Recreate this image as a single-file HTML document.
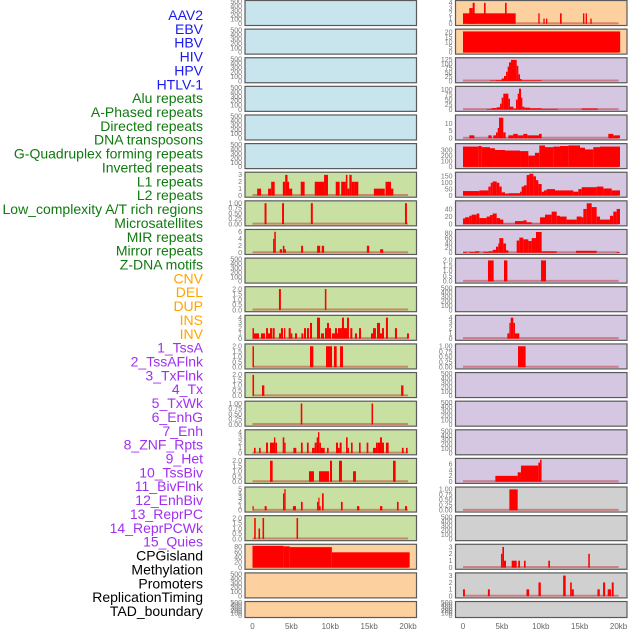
<!DOCTYPE html>
<html><head><meta charset="utf-8"><style>
html,body{margin:0;padding:0;background:#fff;width:630px;height:630px;overflow:hidden}
svg{display:block;font-family:"Liberation Sans",sans-serif}
</style></head><body>
<svg id="chart" width="630" height="630" xmlns="http://www.w3.org/2000/svg"></svg>
<script>
const trackLabels = ["AAV2","EBV","HBV","HIV","HPV","HTLV-1","Alu repeats","A-Phased repeats","Directed repeats","DNA transposons","G-Quadruplex forming repeats","Inverted repeats","L1 repeats","L2 repeats","Low_complexity A/T rich regions","Microsatellites","MIR repeats","Mirror repeats","Z-DNA motifs","CNV","DEL","DUP","INS","INV","1_TssA","2_TssAFlnk","3_TxFlnk","4_Tx","5_TxWk","6_EnhG","7_Enh","8_ZNF_Rpts","9_Het","10_TssBiv","11_BivFlnk","12_EnhBiv","13_ReprPC","14_ReprPCWk","15_Quies","CPGisland","Methylation","Promoters","ReplicationTiming","TAD_boundary"];
const labelGroups = [0,0,0,0,0,0,1,1,1,1,1,1,1,1,1,1,1,1,1,2,2,2,2,2,3,3,3,3,3,3,3,3,3,3,3,3,3,3,3,4,4,4,4,4];
const xTickValues = [0,5,10,15,20];
const xTickLabels = ["0","5kb","10kb","15kb","20kb"];
const emptyTicks = [0,100,200,300,400,500];

const segL6 = [[0.6,1.1,1],[2.0,2.4,1],[2.4,2.85,2],[3.9,4.2,2],[4.2,4.5,3],[4.5,4.7,2],[4.7,5.1,1],[6.2,6.7,2],[8.0,9.2,2],[9.2,9.7,3],[10.7,11.2,2],[11.4,12.0,2],[12.0,12.2,3],[12.2,12.45,1],[12.45,12.75,3],[12.75,13.1,2],[13.1,13.6,2],[15.6,17.0,1],[17.1,17.8,2],[17.8,18.1,1]];
const segL7 = [[1.55,1.8,1],[3.8,4.05,1],[7.5,7.75,1],[19.6,19.85,1]];
const segL8 = [[2.65,2.8,4],[2.8,3.0,6],[3.5,3.8,1],[3.9,4.1,2],[4.1,4.3,1],[6.25,6.5,2],[8.3,8.7,2],[8.9,9.2,2],[14.7,15.0,2],[16.4,16.8,1]];
const segL10 = [[3.4,3.65,2],[9.3,9.5,2]];
const segL11 = [[0,0.19,2],[0.19,0.84,1],[1.09,1.61,1],[1.74,1.99,2],[1.99,2.25,1],[2.25,2.51,2],[2.59,2.85,2],[3.41,3.66,1],[3.66,3.92,2],[4.05,4.22,2],[4.65,4.91,2],[4.91,5.12,1],[5.46,5.72,1],[6.28,6.53,1],[6.62,6.88,2],[7.0,7.26,2],[7.39,7.65,3],[8.29,8.68,4],[8.8,9.19,1],[9.32,9.58,2],[9.58,9.83,3],[9.83,10.09,2],[10.22,10.6,1],[10.6,10.86,2],[10.86,10.99,1],[10.99,11.25,2],[11.25,11.5,2],[11.5,11.76,4],[11.76,12.15,2],[12.15,12.4,4],[12.57,12.83,2],[13.17,13.43,1],[13.69,13.95,2],[15.23,15.49,1],[15.49,15.87,2],[16.0,16.39,3],[16.39,16.64,1],[16.64,16.9,2],[17.15,17.41,4],[18.31,18.57,2],[19.86,20.11,1]];
const segL12 = [[0,0.19,2],[7.39,7.82,2],[9.45,10.22,2],[10.47,10.82,2],[11.25,11.63,2]];
const segL13 = [[0,0.2,2],[1.22,1.52,1],[19.1,19.4,1]];
const segL14 = [[6.2,6.4,1],[15.3,15.5,1]];
const segL15 = [[0.19,0.4,1],[0.84,1.05,1],[1.74,1.99,2],[2.25,2.76,2],[2.76,2.93,3],[2.93,3.15,2],[3.88,4.09,3],[4.09,4.26,2],[5.25,5.63,1],[6.23,6.45,2],[7.0,7.22,2],[7.65,7.99,1],[7.99,8.25,2],[8.25,8.42,3],[8.42,8.59,4],[8.59,8.8,2],[8.8,9.28,1],[9.58,9.79,1],[10.73,10.99,2],[10.99,11.2,1],[11.2,11.46,2],[12.02,12.23,3],[12.23,12.4,1],[12.66,12.87,2],[13.69,13.9,2],[14.67,14.89,2],[15.49,15.87,1],[15.87,16.09,2],[16.09,16.39,2],[16.39,16.64,3],[16.64,16.9,2],[17.15,17.5,2],[19.2,19.43,1],[19.73,19.94,1]];
const segL16 = [[2.25,2.59,2],[7.26,7.9,1],[8.55,8.93,1],[8.93,9.83,1],[9.96,10.22,2],[11.12,11.5,2],[12.92,13.3,1],[18.06,18.4,2]];
const segL17 = [[0,0.15,1],[1.56,1.82,1],[3.92,4.09,4],[4.09,4.26,5],[5.2,5.59,1],[6.23,6.45,2],[8.29,8.46,2],[8.46,8.59,3],[8.59,8.76,1],[8.93,9.15,4],[11.37,11.59,2],[13.43,13.73,1],[16.39,16.69,1],[18.57,18.78,2],[19.6,19.86,1]];
const segL18 = [[0.22,0.42,2],[0.77,0.97,1],[1.29,1.49,2],[5.66,5.86,2]];
const segL19 = [[0,4.0,84],[4.0,4.8,82],[4.8,10.2,79],[10.2,20.2,59]];

const segR0 = [[0,6.77,2],[0.81,1.03,3],[1.03,1.24,3],[1.24,1.5,4],[2.7,2.91,4],[5.4,5.61,4],[9.68,9.85,2],[10.33,10.5,1],[10.67,10.84,1],[12.47,12.68,2],[15.42,15.6,2],[15.77,15.94,2],[16.37,16.54,1]];
const segR1 = [[0,20.2,21]];
const segR2 = [[3.47,4.24,3],[4.24,4.97,5],[4.97,5.27,15],[5.27,5.53,30],[5.53,5.74,55],[5.74,5.91,85],[5.91,6.17,110],[6.17,6.9,125],[6.9,7.11,90],[7.11,7.33,40],[7.33,7.54,12],[7.54,10.11,4]];
const segR3 = [[3.04,3.68,3],[3.68,4.33,8],[4.33,4.76,12],[4.76,4.97,30],[4.97,5.18,60],[5.18,5.83,80],[5.83,6.04,55],[6.04,6.47,15],[6.47,6.81,5],[6.81,7.03,50],[7.03,7.2,80],[7.2,7.46,105],[7.46,7.63,60],[7.63,7.88,15],[7.88,8.61,10],[8.61,10.11,7],[10.11,12.17,4],[15.25,17.31,6]];
const segR4 = [[0.81,1.46,2],[3.26,3.68,2],[3.9,4.24,2],[4.24,4.46,4],[4.46,4.63,7],[4.63,5.18,14],[5.18,5.48,4],[5.83,6.47,2],[6.47,7.03,3],[7.03,7.75,2],[7.75,8.27,3],[8.27,9.77,2],[9.77,10.11,3],[18.68,19.32,3],[19.32,20.18,2]];
const bndR5 = [0,1.97,2.4,3.47,4.11,5.4,7.33,8.4,9.25,9.81,10.54,11.61,12.47,13.54,15.04,15.68,16.75,17.61,20.18];
const valR5 = [360,370,350,330,300,290,280,200,250,380,350,360,370,380,340,310,350,360];
const bndR6 = [0,2.1,3.26,3.56,3.81,4.33,4.67,4.97,5.4,5.83,7.33,7.54,7.84,8.18,8.53,9.04,9.38,9.68,10.11,10.41,10.75,11.83,14.18,14.82,15.25,17.18,18.04,19.11,20.18];
const valR6 = [35,40,70,100,110,100,70,25,15,18,30,70,80,160,170,150,120,90,30,40,50,40,30,50,65,70,55,40];
const bndR7 = [0,0.26,0.81,1.11,1.76,2.1,3.04,3.47,3.81,4.33,4.76,5.18,6.68,7.75,8.18,8.83,9.9,10.54,11.4,12.04,12.47,13.32,14.61,15.25,15.47,15.9,16.54,17.18,17.61,18.89,19.32,19.75,20.18];
const valR7 = [15,18,22,25,28,16,20,24,28,16,12,1,8,10,5,1,18,25,33,22,20,12,20,18,40,55,45,20,12,22,33,40];
const segR8 = [[0,0.47,3],[0.81,1.54,3],[1.54,2.1,6],[2.61,3.26,4],[3.26,3.81,6],[3.81,4.24,12],[4.24,4.54,25],[4.54,4.67,38],[4.67,5.18,60],[5.18,5.53,38],[5.53,5.83,10],[6.9,7.24,50],[7.24,7.75,62],[7.75,8.4,55],[8.4,8.83,48],[8.83,9.38,60],[9.38,10.11,85],[10.11,12.04,6],[14.52,17.18,8],[19.75,20.18,3]];
const segR9 = [[3.21,3.94,2],[5.27,5.7,2],[10.03,10.67,2]];
const segR11 = [[5.7,5.96,1],[5.96,6.13,3],[6.13,6.47,4],[6.47,6.68,3],[6.68,7.24,1]];
const segR12 = [[7.07,8.05,1]];
const segR16 = [[4.16,7.03,2],[7.03,7.45,3.2],[7.45,9.68,5.5],[9.68,9.9,6.5],[9.9,10.1,7.5]];
const segR17 = [[5.96,7.03,1]];
const segR19 = [[4.88,5.06,2],[5.06,5.27,3],[5.27,5.53,1],[6.26,6.9,1],[7.1,7.33,1],[7.84,8.05,1],[10.96,11.18,1],[16.1,16.3,2]];
const segR20 = [[0,0.25,1],[3.2,3.45,1],[8.16,8.5,1],[9.7,10.0,2],[12.87,13.2,3],[13.77,13.98,2],[13.98,14.24,1],[17.28,17.58,1],[18.0,18.27,2],[18.6,19.03,1],[19.12,19.37,2]];

function steps(b, v){ const out=[]; for(let i=0;i<v.length;i++) out.push([b[i],b[i+1],v[i]]); return out; }

const BLUE="#c8e4ec", GREEN="#c8e0a2", PEACH="#fdd0a0", PURPLE="#d5c6e2", GRAY="#d0d0d0";
const leftTracks = [
 {segs:null,max:500,ticks:emptyTicks,dec:0,bg:BLUE},{segs:null,max:500,ticks:emptyTicks,dec:0,bg:BLUE},
 {segs:null,max:500,ticks:emptyTicks,dec:0,bg:BLUE},{segs:null,max:500,ticks:emptyTicks,dec:0,bg:BLUE},
 {segs:null,max:500,ticks:emptyTicks,dec:0,bg:BLUE},{segs:null,max:500,ticks:emptyTicks,dec:0,bg:BLUE},
 {segs:segL6,max:3.2,ticks:[0,1,2,3],dec:0,bg:GREEN},
 {segs:segL7,max:1.05,ticks:[0,0.25,0.5,0.75,1],dec:2,bg:GREEN},
 {segs:segL8,max:6.3,ticks:[0,2,4,6],dec:0,bg:GREEN},
 {segs:null,max:500,ticks:emptyTicks,dec:0,bg:GREEN},
 {segs:segL10,max:2.1,ticks:[0,0.5,1,1.5,2],dec:1,bg:GREEN},
 {segs:segL11,max:4.2,ticks:[0,1,2,3,4],dec:0,bg:GREEN},
 {segs:segL12,max:2.1,ticks:[0,0.5,1,1.5,2],dec:1,bg:GREEN},
 {segs:segL13,max:2.1,ticks:[0,0.5,1,1.5,2],dec:1,bg:GREEN},
 {segs:segL14,max:1.05,ticks:[0,0.25,0.5,0.75,1],dec:2,bg:GREEN},
 {segs:segL15,max:4.2,ticks:[0,1,2,3,4],dec:0,bg:GREEN},
 {segs:segL16,max:2.1,ticks:[0,0.5,1,1.5,2],dec:1,bg:GREEN},
 {segs:segL17,max:5.2,ticks:[0,1,2,3,4,5],dec:0,bg:GREEN},
 {segs:segL18,max:2.1,ticks:[0,0.5,1,1.5,2],dec:1,bg:GREEN},
 {segs:segL19,max:85,ticks:[0,20,40,60,80],dec:0,bg:PEACH},
 {segs:null,max:500,ticks:emptyTicks,dec:0,bg:PEACH},{segs:null,max:500,ticks:emptyTicks,dec:0,bg:PEACH}
];
const rightTracks = [
 {segs:segR0,max:4.2,ticks:[0,1,2,3,4],dec:0,bg:PEACH},
 {segs:segR1,max:22,ticks:[0,5,10,15,20],dec:0,bg:PEACH},
 {segs:segR2,max:130,ticks:[0,25,50,75,100,125],dec:0,bg:PURPLE},
 {segs:segR3,max:110,ticks:[0,25,50,75,100],dec:0,bg:PURPLE},
 {segs:segR4,max:15,ticks:[0,5,10],dec:0,bg:PURPLE},
 {segs:steps(bndR5,valR5),max:390,ticks:[0,100,200,300],dec:0,bg:PURPLE},
 {segs:steps(bndR6,valR6),max:172,ticks:[0,50,100,150],dec:0,bg:PURPLE},
 {segs:steps(bndR7,valR7),max:58,ticks:[0,20,40],dec:0,bg:PURPLE},
 {segs:segR8,max:90,ticks:[0,20,40,60,80],dec:0,bg:PURPLE},
 {segs:segR9,max:2.1,ticks:[0,0.5,1,1.5,2],dec:1,bg:PURPLE},
 {segs:null,max:500,ticks:emptyTicks,dec:0,bg:PURPLE},
 {segs:segR11,max:4.2,ticks:[0,1,2,3,4],dec:0,bg:PURPLE},
 {segs:segR12,max:1.05,ticks:[0,0.25,0.5,0.75,1],dec:2,bg:PURPLE},
 {segs:null,max:500,ticks:emptyTicks,dec:0,bg:PURPLE},{segs:null,max:500,ticks:emptyTicks,dec:0,bg:PURPLE},
 {segs:null,max:500,ticks:emptyTicks,dec:0,bg:PURPLE},
 {segs:segR16,max:7.5,ticks:[0,2,4,6],dec:0,bg:PURPLE},
 {segs:segR17,max:1.05,ticks:[0,0.25,0.5,0.75,1],dec:2,bg:GRAY},
 {segs:null,max:500,ticks:emptyTicks,dec:0,bg:GRAY},
 {segs:segR19,max:3.2,ticks:[0,1,2,3],dec:0,bg:GRAY},
 {segs:segR20,max:3.2,ticks:[0,1,2,3],dec:0,bg:GRAY},
 {segs:null,max:500,ticks:emptyTicks,dec:0,bg:GRAY}
];

const NS="http://www.w3.org/2000/svg";
const svg=document.getElementById('chart');
function mk(tag, attrs, parent){ const e=document.createElementNS(NS,tag); for(const k in attrs) e.setAttribute(k,attrs[k]); (parent||svg).appendChild(e); return e; }

const groupColors=["#1a1af0","#0f7a0f","#ffa500","#a030f0","#000000"];
const labelLayer=mk('g',{});


trackLabels.forEach((t,i)=>{
  const el=mk('text',{x:203,y:15+i*13.86+5,'text-anchor':'end','font-size':'14',fill:groupColors[labelGroups[i]]},labelLayer);
  
  
  el.textContent=t;
});

const PW=171.5, PITCH=28.62, KBPX=7.78;
function drawPanel(track, r, left, side){
  const top=r*PITCH, h=(r===21)?16:25;
  const g=mk('g',{});
  
  
  mk('rect',{x:left,y:top+0.5,width:PW,height:h,fill:track.bg,stroke:'#5a5a5a','stroke-width':1.2},g);
  const x=kb=>left+7.5+kb*KBPX;
  const y=v=>top+h-1.2-(v/track.max)*(h-3);
  track.ticks.forEach(tv=>{
    const t=mk('text',{x:left-3,y:y(tv)+2.3,'text-anchor':'end','font-size':'7',fill:'#777'},g);
    
    
    t.textContent=tv.toFixed(track.dec);
  });
  if(track.segs){
    mk('rect',{x:x(0),y:y(0)-1.5,width:x(20)-x(0),height:2,fill:'rgba(190,30,30,0.45)'},g);
    track.segs.forEach(s=>{
      const b=mk('rect',{x:x(s[0]),y:y(s[2]),width:Math.max(x(s[1])-x(s[0]),1.2),height:y(0)-y(s[2]),fill:'#ff0000'},g);
      
      
    });
  }
}
leftTracks.forEach((t,r)=>drawPanel(t,r,245,'left'));
rightTracks.forEach((t,r)=>drawPanel(t,r,455.5,'right'));

[245,455.5].forEach(left=>{
  xTickValues.forEach((v,i)=>{
    const t=mk('text',{x:left+7.5+v*KBPX,y:629,'text-anchor':'middle','font-size':'8',fill:'#666'});
    
    
    t.textContent=xTickLabels[i];
  });
});
</script>
</body></html>
